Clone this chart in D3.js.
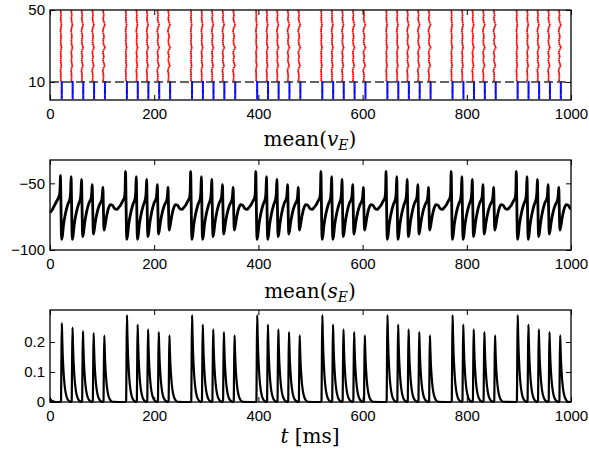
<!DOCTYPE html>
<html><head><meta charset="utf-8">
<script src="https://cdn.jsdelivr.net/npm/d3@7"></script>
<style>body{margin:0;background:#fff} svg{display:block}</style>
</head><body><svg id="c" width="589" height="453"></svg>
<script>
// ---------- data ----------
const burstStarts = [20, 145, 270, 395, 520, 645, 770, 895];      // ms, first volley of each burst
const volleyOffsets = [0, 20.5, 40.5, 61, 81.5];                     // ms within a burst
const excDelay = 0.6;                                                // ms, red raster vs volley
const inhibDelay = [2.6, 3.0, 3.3, 3.6, 4.0];                        // ms, blue raster vs volley
// per-neuron spike jitter (neurons 11..50), ms
const excJitter = [0,0.1,0.2,0.1,0,-0.2,-0.1,0.3,0.8,0.5,0.2,0,0.1,0.3,0.2,-0.1,0,0.4,1.0,0.6,
                   0.2,0.1,0,0.2,0.4,0.3,0.1,-0.2,-0.1,0.2,0.6,0.9,0.5,0.2,0,0.1,0.3,0.2,0,-0.1];
const jitterSpread = [1.5, 2.0, 2.5, 3.0, 3.5];
const excNeurons = d3.range(11, 51);
const inhNeurons = d3.range(1, 11);

// mean(v_E): one burst cycle (ms relative to burst start, mV)
const vCycleT = [0,0.9,2.2,3.5,6,10,14,18.5,19.6,
                 20.5,21.4,22.7,24,26.5,30.5,34.5,38.5,39.6,
                 40.5,41.4,42.7,44,46.5,50.5,54.5,59,60.1,
                 61,61.9,63.2,64.5,67,71,75,79.5,80.6,
                 81.5,82.4,83.7,85,88,92,96,100,104,108,112,116,120,123,124.1];
const vCycleV = [-41,-62,-92,-90,-81,-72,-66,-61,-56,
                 -45,-64,-92,-90,-81,-72,-66,-61,-56,
                 -47,-65,-90,-88,-80,-71,-65,-61,-57,
                 -51,-66,-88,-86,-79,-71,-66,-62,-58,
                 -53,-67,-85,-83,-76,-69,-66,-66.5,-69,-69.5,-68,-66,-63,-60.5,-56];
const vInitT = [0, 4, 8, 12, 16, 18.5, 19.4];
const vInitV = [-72, -70, -67, -64, -61, -58, -53];
const vFirstPeak = -44;

// mean(s_E)
const sPeaksFirst = [0.263, 0.248, 0.236, 0.230, 0.221];
const sPeaks      = [0.290, 0.258, 0.242, 0.233, 0.222];
const sShapeDt   = [-1.2, 0, 0.6, 1.5, 2.3, 3.2, 4.5, 6, 8, 10.5, 13.5, 17.5];
const sShapeFrac = [0, 0.02, 0.45, 1, 0.8, 0.6, 0.42, 0.27, 0.15, 0.07, 0.025, 0.004];
const sInitT = [0, 3, 7, 11];
const sInitV = [0.010, 0.005, 0.0015, 0];

const xTicks = [0, 200, 400, 600, 800, 1000];
const rasterTicks = [10, 50];
const vTicks = [-100, -50];
const vTickLabels = ["\u2212100", "\u221250"];
const sTicks = [0, 0.1, 0.2];
const sTickLabels = ["0", "0.1", "0.2"];

// ---------- build series ----------
const volleys = [];
burstStarts.forEach((b, bi) => volleyOffsets.forEach((o, k) => volleys.push({t: b + o, b: bi, k})));

const excSpikes = [], inhSpikes = [];
volleys.forEach(v => {
  excNeurons.forEach((n, i) => excSpikes.push({t: v.t + excDelay + excJitter[i] * jitterSpread[v.k], n}));
  inhNeurons.forEach(n => inhSpikes.push({t: v.t + inhibDelay[v.k], n}));
});

const vSeries = [];
vInitT.forEach((t, i) => vSeries.push([t, vInitV[i]]));
burstStarts.forEach((b, bi) => vCycleT.forEach((t, i) => {
  const tt = b + t;
  if (tt <= 1000) vSeries.push([tt, (bi === 0 && i === 0) ? vFirstPeak : vCycleV[i]]);
}));
if (vSeries[vSeries.length - 1][0] < 1000) vSeries.push([1000, vSeries[vSeries.length - 1][1]]);

const sSeries = [];
sInitT.forEach((t, i) => sSeries.push([t, sInitV[i]]));
volleys.forEach(v => {
  const pk = v.b === 0 ? sPeaksFirst[v.k] : sPeaks[v.k];
  sShapeDt.forEach((dt, i) => { const tt = v.t + 1.2 + dt; if (tt <= 1000) sSeries.push([tt, pk * sShapeFrac[i]]); });
});
sSeries.push([1000, 0]);

// ---------- drawing ----------
const svg = d3.select("#c");
const x = d3.scaleLinear().domain([0, 1000]).range([50, 571]);
const tickFont = "'Liberation Sans', Arial, Helvetica, sans-serif";
const serif = "'DejaVu Serif', 'Liberation Serif', serif";

function frame(y, yTicks, yLabels, top, bottom) {
  const g = svg.append("g");
  const tickSize = 5;
  const ax = d3.axisBottom(x).tickValues(xTicks).tickSize(-tickSize).tickSizeOuter(0).tickPadding(8).tickFormat(d3.format("d"));
  const gb = g.append("g").attr("transform", `translate(0,${bottom})`).call(ax);
  const at = d3.axisTop(x).tickValues(xTicks).tickSize(-tickSize).tickSizeOuter(0).tickFormat("");
  const gt = g.append("g").attr("transform", `translate(0,${top})`).call(at);
  const al = d3.axisLeft(y).tickValues(yTicks).tickSize(-tickSize).tickSizeOuter(0).tickPadding(5).tickFormat((d, i) => yLabels[i]);
  const gl = g.append("g").attr("transform", `translate(${x.range()[0]},0)`).call(al);
  const ar = d3.axisRight(y).tickValues(yTicks).tickSize(-tickSize).tickSizeOuter(0).tickFormat("");
  const gr = g.append("g").attr("transform", `translate(${x.range()[1]},0)`).call(ar);
  [gb, gt, gl, gr].forEach(a => {
    a.select(".domain").remove();
    a.selectAll("line").attr("stroke", "#000").attr("stroke-width", 1);
    a.selectAll("text").attr("font-family", tickFont).attr("font-size", 15).attr("fill", "#000");
  });
  g.append("rect").attr("x", x.range()[0]).attr("y", top)
    .attr("width", x.range()[1] - x.range()[0]).attr("height", bottom - top)
    .attr("fill", "none").attr("stroke", "#000").attr("stroke-width", 1.3);
}

// Panel 1: raster
const y1 = d3.scaleLinear().domain([0, 50]).range([100, 10]);
const p1 = svg.append("g");
p1.append("defs").append("clipPath").attr("id", "cp1").append("rect")
  .attr("x", 50).attr("y", 10).attr("width", 521).attr("height", 90);
const p1c = p1.append("g").attr("clip-path", "url(#cp1)");
p1c.selectAll("circle.e").data(excSpikes).join("circle").attr("class", "e")
  .attr("cx", d => x(d.t)).attr("cy", d => y1(d.n)).attr("r", 1.0).attr("fill", "#ff0000");
p1c.selectAll("rect.i").data(inhSpikes).join("rect").attr("class", "i")
  .attr("x", d => x(d.t) - 1).attr("y", d => y1(d.n) - 1).attr("width", 2).attr("height", 2).attr("fill", "#0000ff");
p1.append("line").attr("x1", x(0)).attr("x2", x(1000)).attr("y1", y1(10)).attr("y2", y1(10))
  .attr("stroke", "#333").attr("stroke-width", 1.3).attr("stroke-dasharray", "9,4");
frame(y1, rasterTicks, rasterTicks.map(String), 10, 100);

// Panel 2: mean v_E
const y2 = d3.scaleLinear().domain([-100, -32.5]).range([250, 160]);
svg.append("path").datum(vSeries)
  .attr("d", d3.line().x(d => x(d[0])).y(d => y2(d[1])).curve(d3.curveMonotoneX))
  .attr("fill", "none").attr("stroke", "#000").attr("stroke-width", 2.8).attr("stroke-linejoin", "round");
frame(y2, vTicks, vTickLabels, 160, 250);

// Panel 3: mean s_E
const y3 = d3.scaleLinear().domain([0, 0.3]).range([402, 312]);
svg.append("path").datum(sSeries)
  .attr("d", d3.line().x(d => x(d[0])).y(d => y3(d[1])).curve(d3.curveMonotoneX))
  .attr("fill", "none").attr("stroke", "#000").attr("stroke-width", 2.2).attr("stroke-linejoin", "round");
frame(y3, sTicks, sTickLabels, 310, 402);

// titles
function meanLabel(yPos, sym) {
  const t = svg.append("text").attr("x", 310).attr("y", yPos).attr("text-anchor", "middle")
    .attr("font-family", serif).attr("font-size", 20).attr("fill", "#000");
  t.append("tspan").text("mean(");
  t.append("tspan").attr("font-style", "italic").text(sym);
  t.append("tspan").attr("font-style", "italic").attr("font-size", 14).attr("dy", 4).text("E");
  t.append("tspan").attr("dy", -4).text(")");
}
meanLabel(146, "v");
meanLabel(298, "s");
const tl = svg.append("text").attr("x", 310).attr("y", 443).attr("text-anchor", "middle")
  .attr("font-family", serif).attr("font-size", 20).attr("fill", "#000");
tl.append("tspan").attr("font-style", "italic").text("t");
tl.append("tspan").text(" [ms]");
</script>
</body></html>
